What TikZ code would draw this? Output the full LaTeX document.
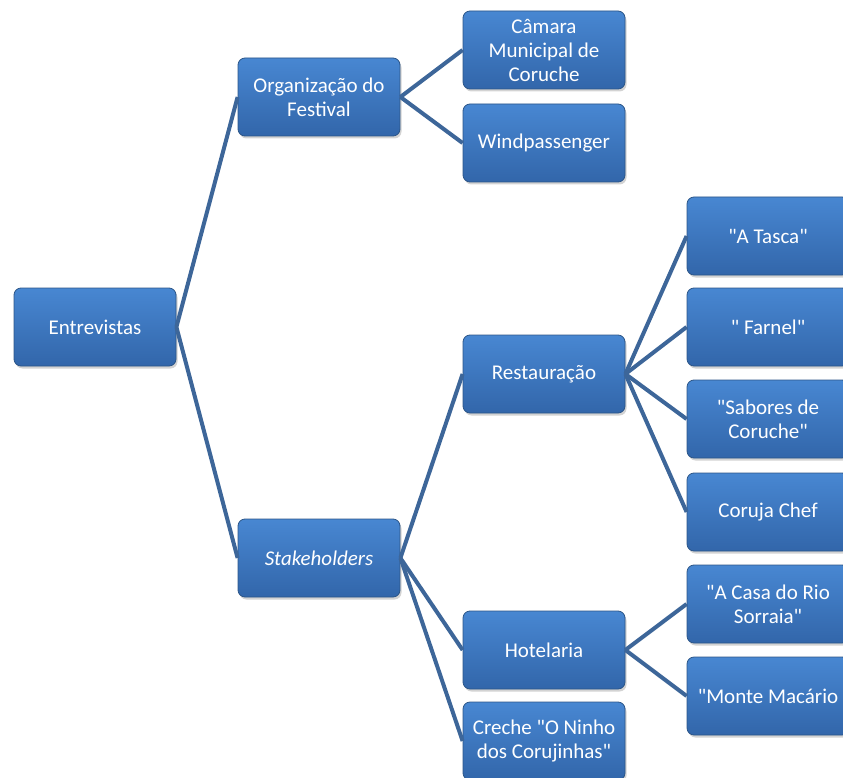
\documentclass[tikz,border=0pt]{standalone}
\usepackage{fontspec}
\setmainfont{Carlito}[Ligatures=TeXOff]
\usetikzlibrary{shadows}
\definecolor{boxtop}{HTML}{4887D2}
\definecolor{boxbot}{HTML}{3266AA}
\definecolor{boxedge}{HTML}{2C5688}
\definecolor{linkc}{HTML}{3D6699}
\tikzset{
  box/.style={rectangle, rounded corners=7pt, minimum width=162pt, minimum height=78pt,
    top color=boxtop, bottom color=boxbot, draw=boxedge, line width=0.8pt,
    text=white, align=center, font=\fontsize{21}{24}\selectfont, inner sep=2pt,
    drop shadow={opacity=0.35, shadow xshift=1.5pt, shadow yshift=-2.5pt}},
  link/.style={draw=linkc, line width=4pt}
}
\begin{document}
\begin{tikzpicture}[x=1pt,y=-1pt]
\useasboundingbox (0,0) rectangle (843,778);
\node[box] (ent) at (95,327) {Entrevistas};
\node[box] (org) at (319,97) {Organização do\\Festival};
\node[box] (cam) at (544,50) {Câmara\\Municipal de\\Coruche};
\node[box] (win) at (544,143) {Windpassenger};
\node[box] (sta) at (319,558) {\itshape Stakeholders};
\node[box] (res) at (544,374) {Restauração};
\node[box] (hot) at (544,650) {Hotelaria};
\node[box] (cre) at (544,741) {Creche "O Ninho\\dos Corujinhas"};
\node[box] (tas) at (768,236) {"A Tasca"};
\node[box] (far) at (768,327) {" Farnel"};
\node[box] (sab) at (768,419) {"Sabores de\\Coruche"};
\node[box] (cor) at (768,512) {Coruja Chef};
\node[box] (cas) at (768,604) {"A Casa do Rio\\Sorraia"};
\node[box] (mon) at (768,696) {"Monte Macário};
\draw[link] (ent.east) -- (org.west);
\draw[link] (ent.east) -- (sta.west);
\draw[link] (org.east) -- (cam.west);
\draw[link] (org.east) -- (win.west);
\draw[link] (sta.east) -- (res.west);
\draw[link] (sta.east) -- (hot.west);
\draw[link] (sta.east) -- (cre.west);
\draw[link] (res.east) -- (tas.west);
\draw[link] (res.east) -- (far.west);
\draw[link] (res.east) -- (sab.west);
\draw[link] (res.east) -- (cor.west);
\draw[link] (hot.east) -- (cas.west);
\draw[link] (hot.east) -- (mon.west);
\end{tikzpicture}
\end{document}
